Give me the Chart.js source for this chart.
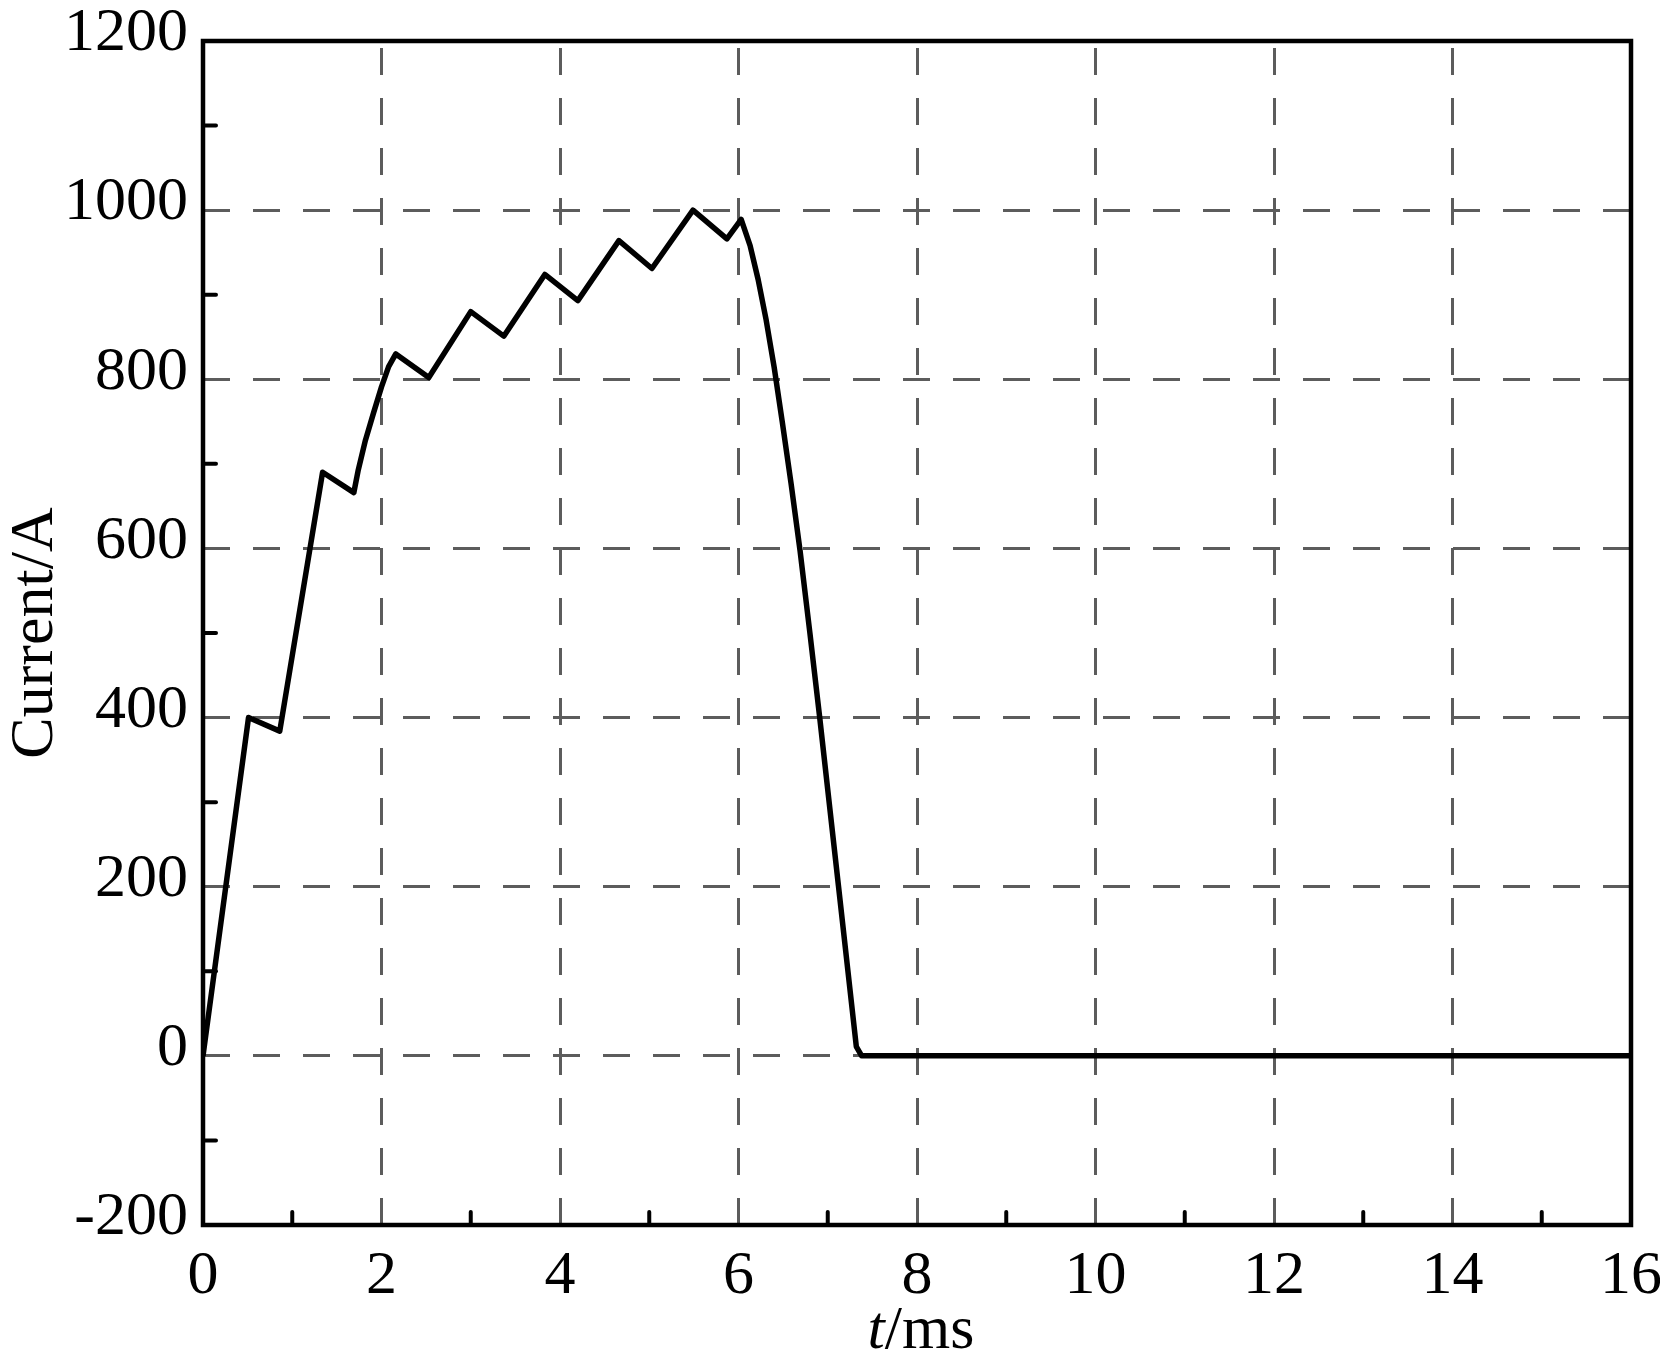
<!DOCTYPE html>
<html lang="en">
<head>
    <meta charset="UTF-8">
    <title>Current vs time</title>
    <script src="https://cdn.jsdelivr.net/npm/chart.js"></script>
    <style>
        html, body { margin: 0; padding: 0; background: #fff; }
        #wrap { width: 1660px; height: 1369px; }
    </style>
</head>
<body>
    <div id="wrap">
        <canvas id="graficoCorriente" width="1660" height="1369"></canvas>
    </div>

    <script>
        // datos
        const tiempoMs = [0, 0.51, 0.86, 1.34, 1.69, 1.74, 1.82, 1.91, 2.00, 2.08, 2.16,
            2.53, 3.00, 3.37, 3.83, 4.20, 4.66, 5.03, 5.49, 5.87, 6.03,
            6.13, 6.22, 6.31, 6.40, 6.49, 6.59, 6.69, 6.80, 6.91, 7.12, 7.32, 7.38, 16];
        const corrienteA = [0, 400, 384, 690, 666, 693, 728, 760, 791, 815, 830,
            802, 880, 851, 924, 893, 964, 931, 1000, 966, 989,
            958, 918, 870, 814, 750, 676, 597, 500, 400, 201, 11, 0, 0];

        const ejeX = { min: 0, max: 16, paso: 1, etiquetaCada: 2 };
        const ejeY = { min: -200, max: 1200, paso: 100, etiquetaCada: 200 };
        const tituloX = ['t', '/ms'];
        const tituloY = 'Current/A';

        const fuente = '"Liberation Serif", "Times New Roman", serif';
        const colorRejilla = '#5c5c5c';

        const puntos = tiempoMs.map((t, i) => ({ x: t, y: corrienteA[i] }));

        const esMayor = (v, cada) => Math.abs(v / cada - Math.round(v / cada)) < 1e-6;

        // sin relleno extra por etiquetas que sobresalen: el área queda fija
        const sinRelleno = s => {
            s.paddingTop = 0; s.paddingBottom = 0;
            s.paddingLeft = 0; s.paddingRight = 0;
        };

        // marco, marcas menores hacia dentro y títulos de los ejes
        const marcoPlugin = {
            id: 'marco',
            afterDraw(chart) {
                const ctx = chart.ctx;
                const a = chart.chartArea;
                const sx = chart.scales.x;
                const sy = chart.scales.y;
                ctx.save();
                ctx.strokeStyle = '#000';
                ctx.lineCap = 'round';
                ctx.lineWidth = 4;
                sx.ticks.forEach(tk => {
                    if (esMayor(tk.value, ejeX.etiquetaCada)) return;
                    const px = sx.getPixelForValue(tk.value);
                    ctx.beginPath();
                    ctx.moveTo(px, a.bottom);
                    ctx.lineTo(px, a.bottom - 13);
                    ctx.stroke();
                });
                sy.ticks.forEach(tk => {
                    if (esMayor(tk.value, ejeY.etiquetaCada)) return;
                    const py = sy.getPixelForValue(tk.value);
                    ctx.beginPath();
                    ctx.moveTo(a.left, py);
                    ctx.lineTo(a.left + 13, py);
                    ctx.stroke();
                });
                ctx.lineCap = 'butt';
                ctx.lineWidth = 4.5;
                ctx.strokeRect(a.left, a.top, a.right - a.left, a.bottom - a.top);

                // título eje X: t en cursiva
                ctx.fillStyle = '#000';
                ctx.textBaseline = 'alphabetic';
                ctx.font = 'italic 62px ' + fuente;
                const w1 = ctx.measureText(tituloX[0]).width;
                ctx.font = '62px ' + fuente;
                const w2 = ctx.measureText(tituloX[1]).width;
                const cx = (a.left + a.right) / 2 + 4;
                let x0 = cx - (w1 + w2) / 2;
                ctx.font = 'italic 62px ' + fuente;
                ctx.fillText(tituloX[0], x0, 1348);
                ctx.font = '62px ' + fuente;
                ctx.fillText(tituloX[1], x0 + w1, 1348);

                // título eje Y
                ctx.translate(52, (a.top + a.bottom) / 2);
                ctx.rotate(-Math.PI / 2);
                ctx.textAlign = 'center';
                ctx.fillText(tituloY, 0, 0);
                ctx.restore();
            }
        };

        const ctxCorriente = document.getElementById('graficoCorriente').getContext('2d');
        const graficoCorriente = new Chart(ctxCorriente, {
            type: 'line',
            data: {
                datasets: [{
                    label: 'Current',
                    data: puntos,
                    borderColor: '#000',
                    borderWidth: 5.5,
                    borderJoinStyle: 'round',
                    pointRadius: 0,
                    tension: 0,
                    fill: false
                }]
            },
            options: {
                responsive: false,
                animation: false,
                layout: { padding: { top: 41, right: 29, bottom: 0, left: 0 } },
                plugins: {
                    legend: { display: false },
                    tooltip: { enabled: false }
                },
                scales: {
                    x: {
                        type: 'linear',
                        min: ejeX.min,
                        max: ejeX.max,
                        afterFit: s => { s.height = 144; sinRelleno(s); },
                        border: { display: false, dash: [27, 23], dashOffset: 43 },
                        grid: {
                            drawTicks: false,
                            lineWidth: 3,
                            color: c => esMayor(c.tick.value, ejeX.etiquetaCada) ? colorRejilla : 'rgba(0,0,0,0)'
                        },
                        ticks: {
                            stepSize: ejeX.paso,
                            autoSkip: false,
                            maxRotation: 0,
                            padding: 15,
                            color: '#000',
                            font: { family: fuente, size: 62 },
                            callback: v => esMayor(v, ejeX.etiquetaCada) ? String(v) : ''
                        }
                    },
                    y: {
                        min: ejeY.min,
                        max: ejeY.max,
                        afterFit: s => { s.width = 203; sinRelleno(s); },
                        border: { display: false, dash: [27, 23], dashOffset: 0 },
                        grid: {
                            drawTicks: false,
                            lineWidth: 3,
                            color: c => esMayor(c.tick.value, ejeY.etiquetaCada) ? colorRejilla : 'rgba(0,0,0,0)'
                        },
                        ticks: {
                            stepSize: ejeY.paso,
                            autoSkip: false,
                            padding: 15,
                            labelOffset: -7,
                            color: '#000',
                            font: { family: fuente, size: 62 },
                            callback: v => esMayor(v, ejeY.etiquetaCada) ? String(v) : ''
                        }
                    }
                }
            },
            plugins: [marcoPlugin]
        });
    </script>
</body>
</html>
